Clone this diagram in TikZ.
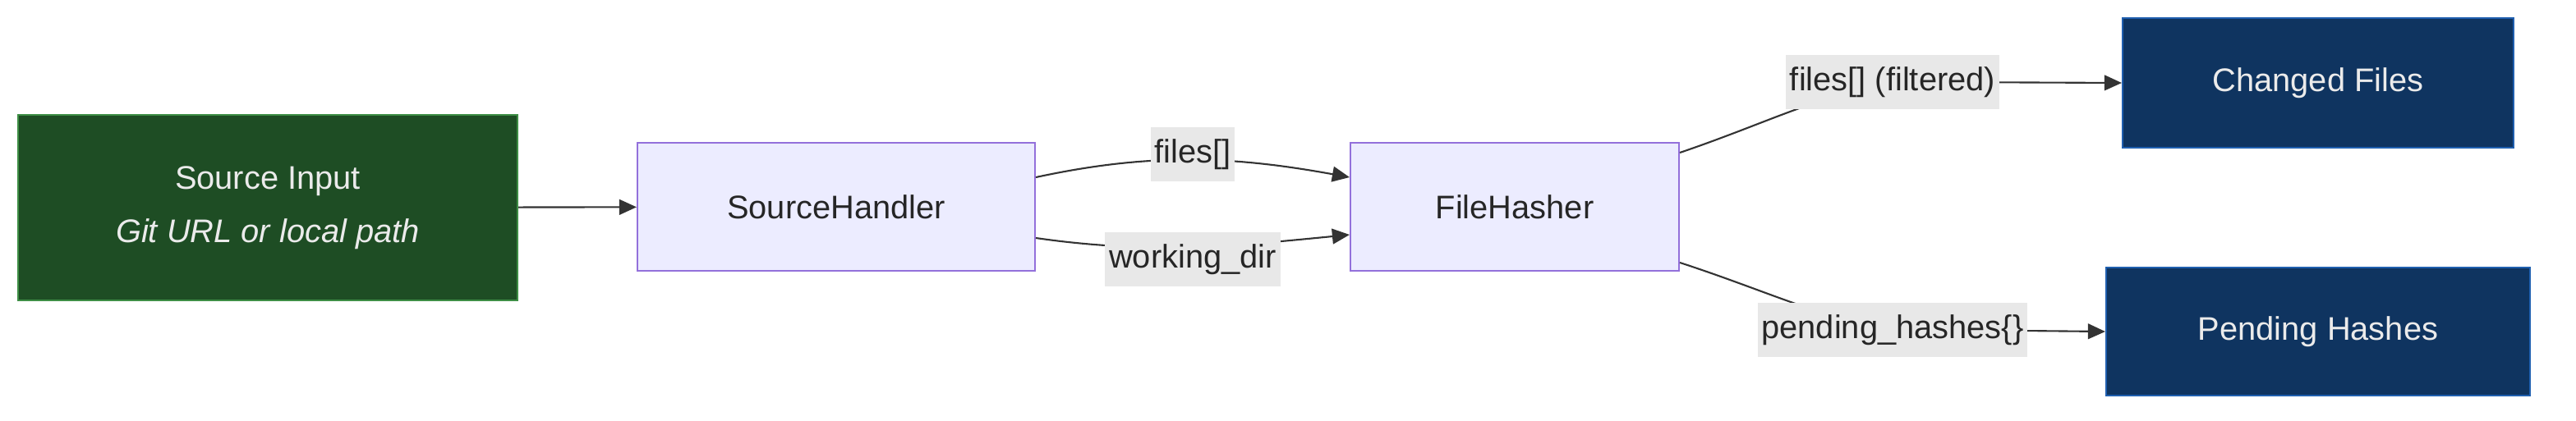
\documentclass[tikz,border=0pt]{standalone}
\usepackage{fontspec}
\setmainfont{Liberation Sans}
\usetikzlibrary{positioning,calc,arrows.meta}
\tikzset{>={Triangle[length=9pt,width=8pt]}}
\definecolor{srcgreen}{HTML}{1E4D24}
\definecolor{srcline}{HTML}{3E8E45}
\definecolor{procfill}{HTML}{ECECFF}
\definecolor{procline}{HTML}{9370DB}
\definecolor{outfill}{HTML}{0F3460}
\definecolor{outline}{HTML}{1F5FAF}
\definecolor{lblgray}{HTML}{E8E8E8}
\tikzset{
  box/.style={draw,line width=0.9pt,align=center,font=\fontsize{17}{22}\selectfont,minimum height=23.4mm},
  proc/.style={box,fill=procfill,draw=procline,text=black!85},
  outp/.style={box,fill=outfill,draw=outline,text=white!92!black},
  lbl/.style={fill=lblgray,font=\fontsize{17}{22}\selectfont,text=black!85,inner sep=2pt,minimum height=10mm},
  link/.style={->,line width=0.9pt,draw=black!80}
}
\begin{document}
\begin{tikzpicture}[x=0.3mm,y=-0.3mm]
\useasboundingbox (0,0) rectangle (1568,256);
\node[box,fill=srcgreen,draw=srcline,text=white!92!black,minimum width=91.2mm,minimum height=33.9mm] (src) at (163,126.5)
  {Source Input\\[2mm]\itshape Git URL or local path};
\node[proc,minimum width=72.6mm] (sh) at (509,126) {SourceHandler};
\node[proc,minimum width=60mm] (fh) at (922,126) {FileHasher};
\node[outp,minimum width=71.4mm,minimum height=23.7mm] (ch) at (1411,50.5) {Changed Files};
\node[outp,minimum width=77.4mm] (ph) at (1411,202) {Pending Hashes};

\draw[link] (src) -- (sh);
\draw[link] ([yshift=5.4mm]sh.east) .. controls (700,93) and (750,95) .. ([yshift=5.4mm]fh.west);
\draw[link] ([yshift=-5.7mm]sh.east) .. controls (700,155) and (750,150) .. ([yshift=-5.1mm]fh.west);
\draw[link] ([yshift=9.9mm]fh.east) .. controls (1090,70) and (1120,50) .. (1180,50) -- (ch.west);
\draw[link] ([yshift=-10.2mm]fh.east) .. controls (1090,182) and (1120,201) .. (1180,201) -- (ph.west);

\node[lbl] (l1) at (726,94) {files[]};
\node[lbl] (l2) at (726,158) {working\_dir};
\node[lbl] (l3) at (1152,50) {files[] (filtered)};
\node[lbl] (l4) at (1152,201) {pending\_hashes\{\}};
\end{tikzpicture}
\end{document}
